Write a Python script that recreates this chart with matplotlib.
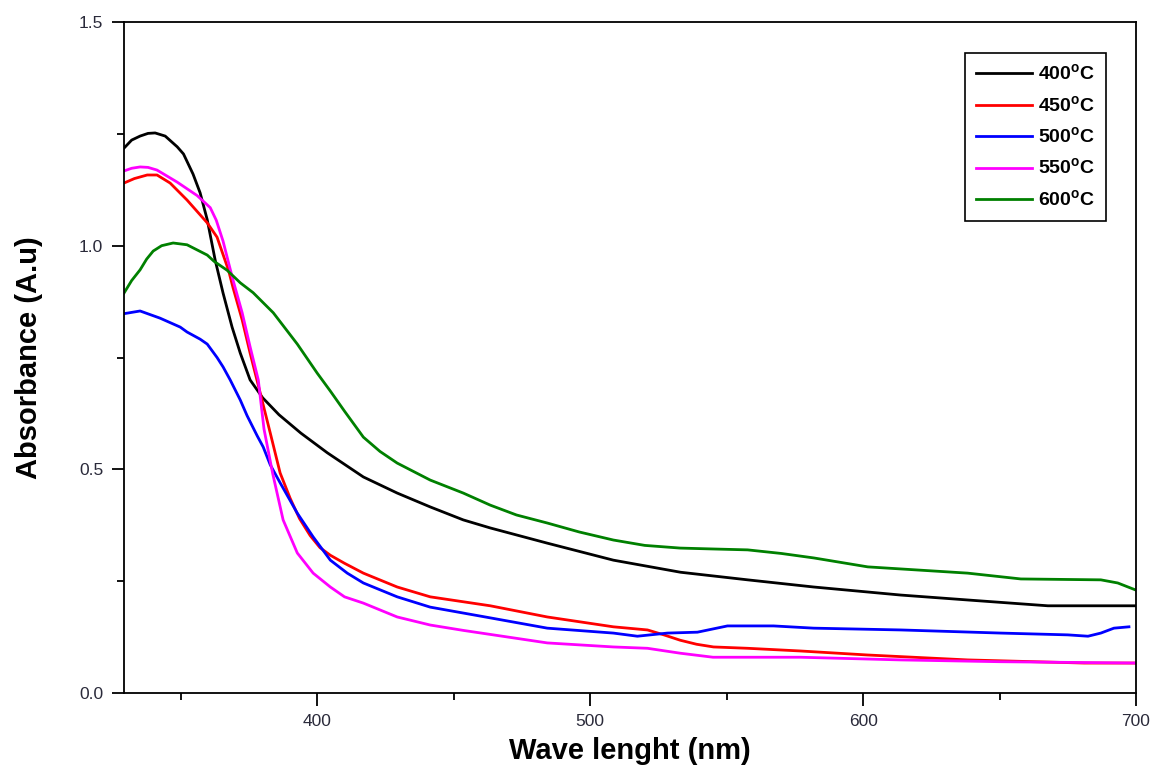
import matplotlib
matplotlib.use("Agg")
import matplotlib.pyplot as plt
from matplotlib.ticker import MultipleLocator, FormatStrFormatter

plt.rcParams['font.family'] = ['Liberation Sans', 'DejaVu Sans']
plt.rcParams['mathtext.fontset'] = 'custom'
plt.rcParams['mathtext.rm'] = 'Liberation Sans'
plt.rcParams['mathtext.bf'] = 'Liberation Sans:bold'

labels = ["400$^\\mathbf{o}$C", "450$^\\mathbf{o}$C", "500$^\\mathbf{o}$C",
          "550$^\\mathbf{o}$C", "600$^\\mathbf{o}$C"]
colors = ["#000000", "#ff0000", "#0000ff", "#ff00ff", "#008000"]

wl_400 = [329.2, 332.0, 335.1, 338.0, 340.6, 344.3, 348.7, 351.0, 354.5, 357.1, 359.7,
          362.6, 365.5, 368.8, 371.8, 375.4, 380.0, 386.0, 394.0, 403.7, 416.9, 429.3,
          441.4, 453.5, 463.4, 484.3, 508.5, 533.1, 557.7, 581.9, 613.8, 638.3, 667.7,
          700.0]
ab_400 = [1.218, 1.236, 1.245, 1.251, 1.252, 1.245, 1.221, 1.205, 1.160, 1.118, 1.058,
          0.968, 0.894, 0.818, 0.760, 0.700, 0.660, 0.622, 0.581, 0.537, 0.483, 0.447,
          0.416, 0.387, 0.369, 0.335, 0.297, 0.270, 0.253, 0.237, 0.219, 0.208, 0.195,
          0.195]

wl_450 = [329.2, 333.0, 337.7, 341.3, 346.1, 352.3, 359.7, 363.3, 365.5, 367.5, 369.2,
          372.5, 375.4, 379.1, 382.8, 386.4, 390.1, 393.5, 397.4, 401.0, 404.8, 410.0,
          416.9, 429.3, 441.4, 463.4, 484.3, 508.5, 521.0, 527.0, 533.0, 539.0, 545.2,
          557.7, 577.0, 601.7, 638.3, 681.0, 700.0]
ab_450 = [1.140, 1.150, 1.158, 1.158, 1.140, 1.102, 1.051, 1.019, 0.980, 0.945, 0.905,
          0.834, 0.760, 0.671, 0.581, 0.492, 0.435, 0.390, 0.352, 0.325, 0.308, 0.290,
          0.268, 0.237, 0.215, 0.195, 0.170, 0.148, 0.141, 0.130, 0.118, 0.109, 0.103,
          0.100, 0.094, 0.085, 0.074, 0.067, 0.067]

wl_500 = [329.2, 335.1, 342.4, 349.8, 352.3, 357.1, 359.7, 363.3, 365.5, 368.1, 371.8,
          374.3, 378.0, 380.2, 382.8, 386.4, 392.7, 398.5, 404.8, 411.0, 416.9, 429.3,
          441.4, 463.4, 484.3, 508.5, 517.3, 528.3, 539.3, 550.3, 567.2, 581.9, 613.8,
          650.5, 675.0, 682.4, 687.1, 691.9, 697.4]
ab_500 = [0.848, 0.854, 0.838, 0.818, 0.807, 0.791, 0.780, 0.750, 0.729, 0.700, 0.655,
          0.620, 0.575, 0.550, 0.510, 0.470, 0.402, 0.349, 0.297, 0.268, 0.246, 0.215,
          0.192, 0.168, 0.145, 0.134, 0.127, 0.134, 0.136, 0.150, 0.150, 0.145, 0.141,
          0.134, 0.130, 0.127, 0.134, 0.145, 0.148]

wl_550 = [329.2, 332.0, 335.1, 338.0, 341.3, 348.7, 356.0, 360.8, 363.0, 365.5, 367.5,
          369.2, 372.5, 375.4, 378.4, 380.5, 383.7, 387.5, 392.7, 398.5, 404.8, 410.0,
          416.9, 429.3, 441.4, 453.5, 470.0, 484.3, 508.5, 521.0, 533.0, 545.0, 577.0,
          613.8, 650.0, 700.0]
ab_550 = [1.167, 1.173, 1.176, 1.175, 1.169, 1.142, 1.112, 1.085, 1.057, 1.010, 0.962,
          0.922, 0.850, 0.774, 0.700, 0.590, 0.490, 0.387, 0.313, 0.268, 0.237, 0.215,
          0.201, 0.170, 0.152, 0.140, 0.125, 0.112, 0.103, 0.100, 0.089, 0.080, 0.080,
          0.074, 0.070, 0.067]

wl_600 = [329.2, 332.0, 335.1, 337.5, 339.9, 343.0, 347.2, 352.3, 359.7, 362.2, 367.0,
          371.8, 376.5, 383.9, 392.7, 400.0, 404.8, 410.0, 416.9, 423.0, 429.3, 441.4,
          453.5, 463.4, 473.0, 484.3, 496.0, 508.5, 520.0, 533.0, 545.0, 557.7, 570.0,
          581.9, 601.7, 620.0, 638.3, 657.8, 687.1, 693.3, 700.0]
ab_600 = [0.894, 0.922, 0.946, 0.970, 0.988, 1.000, 1.006, 1.002, 0.979, 0.965, 0.945,
          0.917, 0.895, 0.850, 0.780, 0.715, 0.675, 0.630, 0.572, 0.540, 0.514, 0.476,
          0.447, 0.420, 0.398, 0.380, 0.360, 0.342, 0.330, 0.324, 0.322, 0.320, 0.312,
          0.302, 0.282, 0.275, 0.268, 0.255, 0.253, 0.246, 0.230]

series = [(wl_400, ab_400), (wl_450, ab_450), (wl_500, ab_500),
          (wl_550, ab_550), (wl_600, ab_600)]

fig = plt.figure(figsize=(11.61, 7.72), dpi=100)
ax = fig.add_axes([0.1068, 0.1023, 0.8717, 0.8692])

for (x, y), c, lab in zip(series, colors, labels):
    ax.plot(x, y, color=c, lw=2.0, label=lab, solid_joinstyle='round')

ax.set_xlim(329.2, 700)
ax.set_ylim(0, 1.5)
ax.xaxis.set_major_locator(MultipleLocator(100))
ax.xaxis.set_minor_locator(MultipleLocator(50))
ax.yaxis.set_major_locator(MultipleLocator(0.5))
ax.yaxis.set_minor_locator(MultipleLocator(0.25))
ax.yaxis.set_major_formatter(FormatStrFormatter('%.1f'))
ax.tick_params(which='major', direction='out', length=9, width=1.3,
               labelsize=12.5, labelcolor='#2a2a3a', pad=6)
ax.tick_params(which='minor', direction='out', length=5, width=1.3)
for s in ax.spines.values():
    s.set_linewidth(1.3)

ax.set_xlabel("Wave lenght (nm)", fontsize=21, fontweight='bold', labelpad=6)
ax.set_ylabel("Absorbance (A.u)", fontsize=21, fontweight='bold', labelpad=26)

leg = ax.legend(loc='upper right', bbox_to_anchor=(0.970, 0.954),
                prop={'weight': 'bold', 'size': 14}, fancybox=False,
                edgecolor='black', framealpha=1, handlelength=2.9,
                labelspacing=0.55, borderpad=0.55, handletextpad=0.3,
                borderaxespad=0)
leg.get_frame().set_linewidth(1.2)

fig.savefig("out.png", dpi=100)
